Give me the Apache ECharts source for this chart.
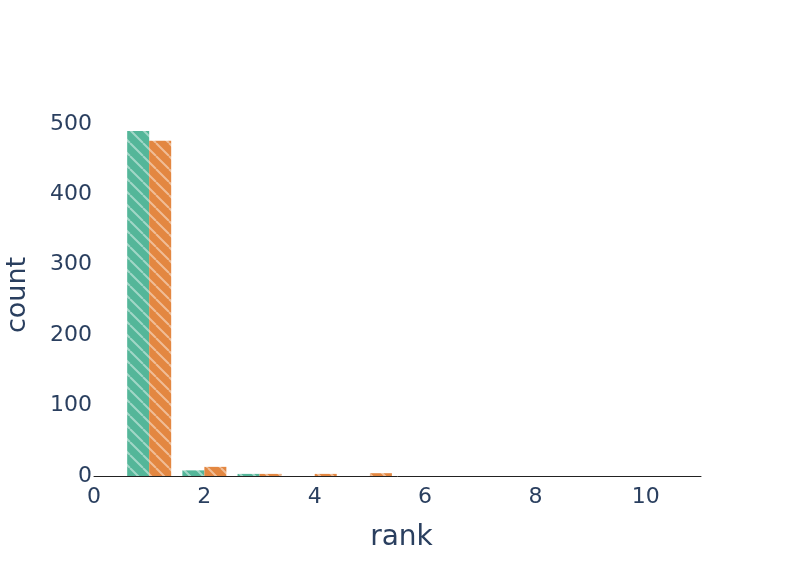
<!DOCTYPE html>
<html>
<head>
<meta charset="utf-8">
<script src="https://cdn.jsdelivr.net/npm/echarts@6/dist/echarts.min.js"></script>
<style>
  html, body { margin: 0; padding: 0; background: #fff; }
  #chart { width: 793px; height: 567px; }
</style>
</head>
<body>
<div id="chart"></div>
<script>
// rank histogram, two groups side by side
const rankGreen = [1, 2, 3];
const countGreen = [490, 8, 3];
const rankOrange = [1, 2, 3, 4, 5];
const countOrange = [476, 13, 3, 3, 4];

function hatch(bg) {
  const s = 13;
  const c = document.createElement('canvas');
  c.width = s; c.height = s;
  const ctx = c.getContext('2d');
  ctx.fillStyle = bg;
  ctx.fillRect(0, 0, s, s);
  ctx.strokeStyle = 'rgba(255,255,255,0.45)';
  ctx.lineWidth = 2;
  ctx.beginPath();
  [-s, 0, s].forEach(o => { ctx.moveTo(o, 0); ctx.lineTo(o + s, s); });
  ctx.stroke();
  return { image: c, repeat: 'repeat' };
}

const font = 'DejaVu Sans';
const txt = '#2a3f5f';

const chart = echarts.init(document.getElementById('chart'));
chart.setOption({
  animation: false,
  grid: { left: 94, right: 92, top: 100, bottom: 91, outerBoundsMode: 'none' },
  xAxis: {
    type: 'value', min: 0, max: 11, interval: 2,
    name: 'rank', nameLocation: 'middle', nameGap: 48,
    nameTextStyle: { fontFamily: font, fontSize: 28, color: txt, padding: [0, 0, 0, 8] },
    axisLine: { show: true, lineStyle: { color: '#222', width: 1 } },
    axisTick: { show: false },
    splitLine: { show: false },
    axisLabel: { fontFamily: font, fontSize: 22, color: txt, margin: 10, showMaxLabel: false }
  },
  yAxis: {
    type: 'value', min: 0, max: 534, interval: 100,
    name: 'count', nameLocation: 'middle', nameGap: 63, nameRotate: 90,
    nameTextStyle: { fontFamily: font, fontSize: 27, color: txt, padding: [0, 14, 0, 0] },
    axisLine: { show: false },
    axisTick: { show: false },
    splitLine: { show: false },
    axisLabel: { fontFamily: font, fontSize: 22, color: txt, margin: 2, showMaxLabel: false,
                 padding: [3, 0, 0, 0] }
  },
  series: [
    {
      type: 'bar', barWidth: 22, barGap: '0%',
      itemStyle: { color: hatch('#54b699') },
      data: rankGreen.map((r, i) => [r, countGreen[i]])
    },
    {
      type: 'bar', barWidth: 22, barGap: '0%',
      itemStyle: { color: hatch('#e38741') },
      data: rankOrange.map((r, i) => [r, countOrange[i]])
    }
  ]
});
</script>
</body>
</html>
